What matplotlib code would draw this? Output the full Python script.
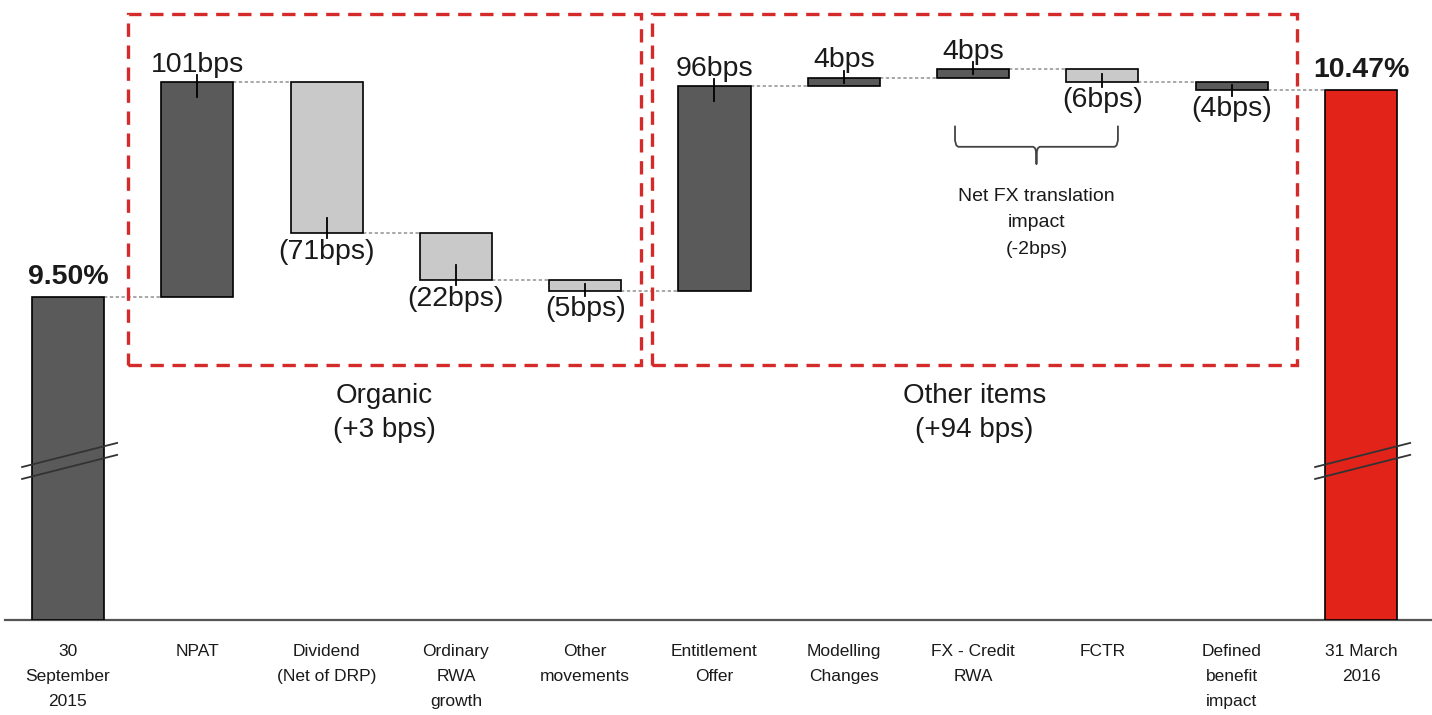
import matplotlib
matplotlib.use("Agg")
import matplotlib.pyplot as plt
from matplotlib.patches import Rectangle

# data
start_label = "30\nSeptember\n2015"
end_label = "31 March\n2016"
categories = ["NPAT", "Dividend\n(Net of DRP)", "Ordinary\nRWA\ngrowth", "Other\nmovements",
              "Entitlement\nOffer", "Modelling\nChanges", "FX - Credit\nRWA", "FCTR",
              "Defined\nbenefit\nimpact"]
start_value = 9.50
end_value = 10.47
deltas_bps = [101, -71, -22, -5, 96, 4, 4, -6, -4]
dark_bar = [True, False, False, False, True, True, True, False, True]
y_floor = 7.984   # broken axis: visible baseline

DARK = "#5a5a5a"
LIGHT = "#c9c9c9"
RED = "#e2231a"
BOX_RED = "#d42a2a"
TXT = "#1a1a1a"

plt.rcParams["font.family"] = ["Liberation Sans", "DejaVu Sans"]

fig = plt.figure(figsize=(14.32, 7.15), dpi=100)
ax = fig.add_axes([5 / 1432, 95 / 715, 1 - 5 / 1432, 620 / 715])
ax.set_xlim(-0.487, 10.549)
ax.set_ylim(y_floor, 10.894)
w = 0.557

n = len(deltas_bps)
# start bar
ax.bar(0, start_value - y_floor, bottom=y_floor, width=w, color=DARK, edgecolor="black", linewidth=1.2, zorder=3)
ax.annotate(f"{start_value:.2f}%", (0, start_value), xytext=(0, 5), textcoords="offset points",
            ha="center", va="bottom", fontsize=20.5, fontweight="bold", color=TXT)

level = start_value
prev_x = 0
for i, d in enumerate(deltas_bps):
    x = i + 1
    new = level + d / 100
    lo, hi = min(level, new), max(level, new)
    inner = min(0.07, 0.6 * (hi - lo))
    # connector from previous bar
    ax.plot([prev_x + w / 2, x - w / 2], [level, level], color="#9a9a9a", lw=1.2,
            linestyle=(0, (2, 1.5)), zorder=2)
    ax.bar(x, hi - lo, bottom=lo, width=w, color=DARK if dark_bar[i] else LIGHT,
           edgecolor="black", linewidth=1.2, zorder=3)
    # small tick at the bar end
    if d > 0:
        ax.plot([x, x], [new + 0.033, new - inner], color="black", lw=1.3, zorder=4)
        ax.annotate(f"{d}bps", (x, new), xytext=(0, 3), textcoords="offset points",
                    ha="center", va="bottom", fontsize=20.5, color=TXT)
    else:
        ax.plot([x, x], [new - 0.025, new + inner], color="black", lw=1.3, zorder=4)
        ax.annotate(f"({-d}bps)", (x, new), xytext=(0, -4), textcoords="offset points",
                    ha="center", va="top", fontsize=20.5, color=TXT)
    level = new
    prev_x = x

# end bar
xe = n + 1
ax.plot([prev_x + w / 2, xe - w / 2], [level, level], color="#9a9a9a", lw=1.2,
        linestyle=(0, (2, 1.5)), zorder=2)
ax.bar(xe, end_value - y_floor, bottom=y_floor, width=w, color=RED, edgecolor="black", linewidth=1.2, zorder=3)
ax.annotate(f"{end_value:.2f}%", (xe, end_value), xytext=(0, 5), textcoords="offset points",
            ha="center", va="bottom", fontsize=20.5, fontweight="bold", color=TXT)

# axis break marks on start and end bars
for xb in (0, xe):
    for off in (0.0, -0.056):
        ax.plot([xb - 0.355, xb + 0.38], [8.702 + off, 8.815 + off], color="#333333", lw=1.3, zorder=5)

# dashed group boxes
boxes = [(0.464, 4.43, "Organic\n(+3 bps)"), (4.517, 9.505, "Other items\n(+94 bps)")]
for x0, x1, lab in boxes:
    ax.add_patch(Rectangle((x0, 9.180), x1 - x0, 10.828 - 9.180, fill=False, edgecolor=BOX_RED,
                           linewidth=2.4, linestyle=(0, (4, 2.6)), zorder=6))
    ax.text((x0 + x1) / 2, 9.095, lab, ha="center", va="top", fontsize=20, color=TXT,
            linespacing=1.4)

# FX bracket
bx0, bx1, bmid = 6.86, 8.12, 7.49
ytop, yh, ytip = 10.30, 10.205, 10.125
r = 0.025
ax.plot([bx0, bx0, bx0 + r * 0.4, bx0 + r, bmid - r, bmid - r * 0.4, bmid, bmid,
         bmid, bmid + r * 0.4, bmid + r, bx1 - r, bx1 - r * 0.4, bx1, bx1],
        [ytop, yh + 0.03, yh + 0.007, yh, yh, yh - 0.007, yh - 0.03, ytip,
         yh - 0.03, yh - 0.007, yh, yh, yh + 0.007, yh + 0.03, ytop],
        color="#444444", lw=1.3, zorder=4)
ax.text(bmid, 10.01, "Net FX translation\nimpact\n(-2bps)", ha="center", va="top", fontsize=14,
        color=TXT, linespacing=1.7)

# axes styling
for s in ("top", "right", "left"):
    ax.spines[s].set_visible(False)
ax.spines["bottom"].set_color("#555555")
ax.spines["bottom"].set_linewidth(1.6)
ax.set_yticks([])
ax.set_xticks(range(n + 2))
ax.set_xticklabels([start_label] + categories + [end_label], fontsize=12.5, color=TXT)
for t in ax.get_xticklabels():
    t.set_linespacing(1.85)
ax.tick_params(axis="x", length=0, pad=17)

fig.savefig("out.png", dpi=100)
